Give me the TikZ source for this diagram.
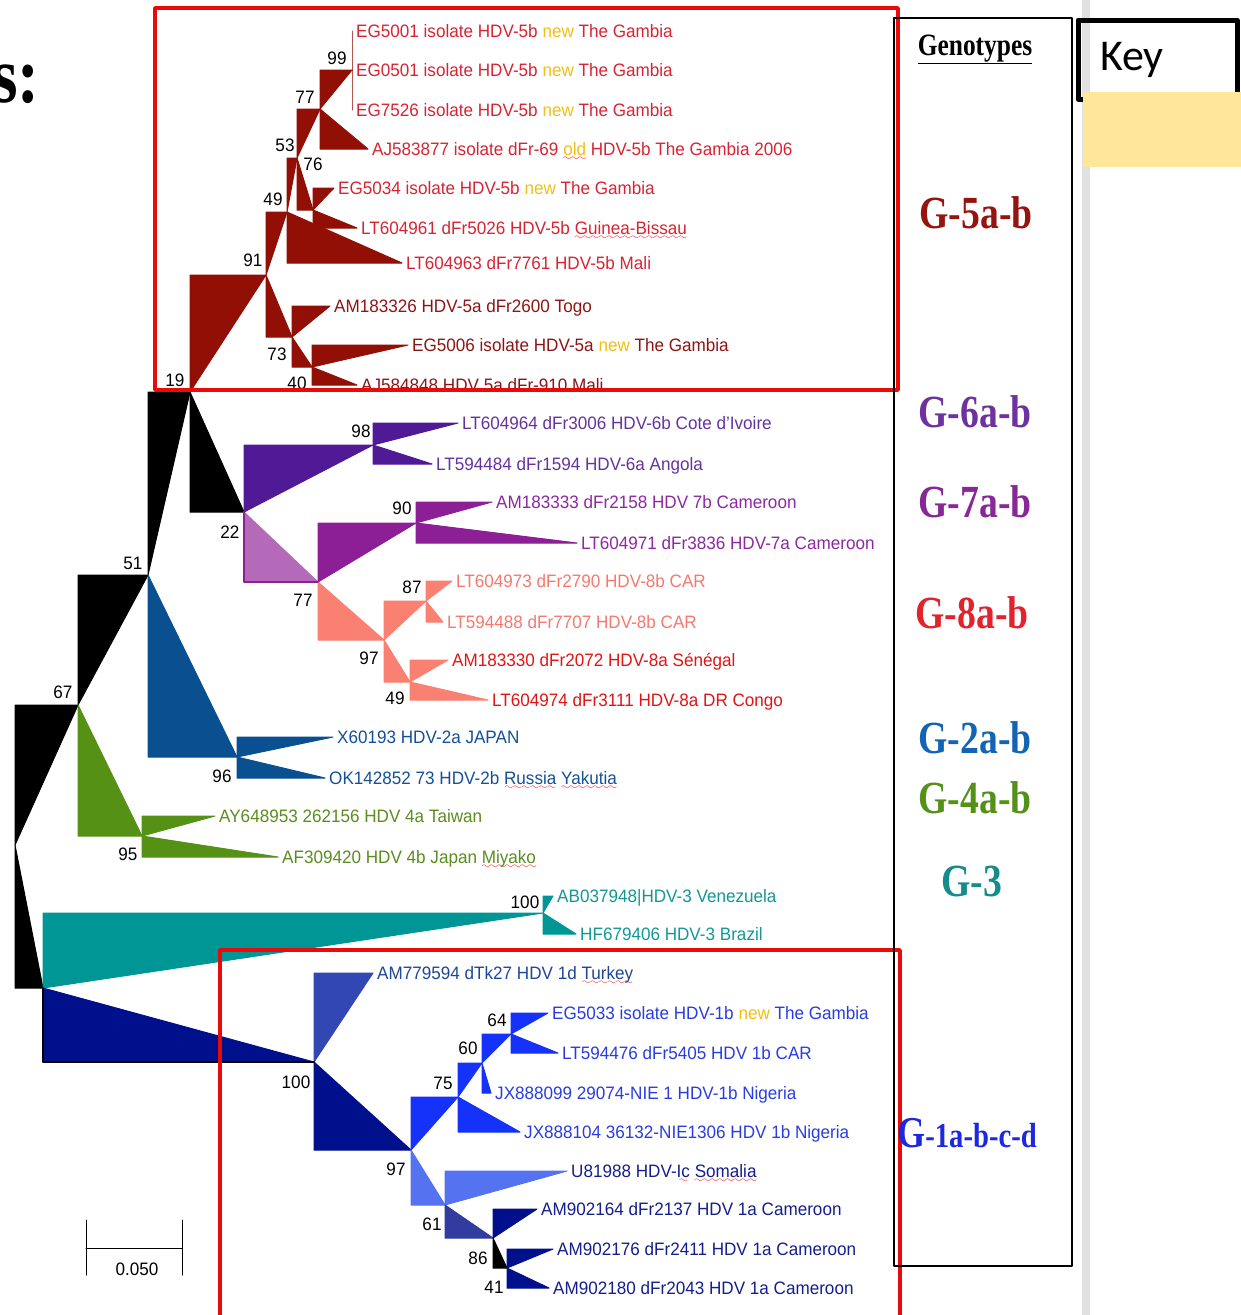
\documentclass[tikz,border=0pt]{standalone}
\usepackage{fontspec}
\usetikzlibrary{calc}
\newfontfamily\tipfont{Liberation Sans}[FakeStretch=0.95]
\newfontfamily\genofont{Liberation Serif}[FakeStretch=0.82]
\newfontfamily\keyfont{Carlito}
\font\sqwave=lasy6 at 9pt
% clade colours
\definecolor{gfive}{RGB}{145,15,5}
\definecolor{gsix}{RGB}{80,25,150}
\definecolor{gseven}{RGB}{140,30,150}
\definecolor{gsevenl}{RGB}{180,105,185}
\definecolor{geight}{RGB}{250,128,114}
\definecolor{gtwo}{RGB}{10,80,145}
\definecolor{gfour}{RGB}{85,145,20}
\definecolor{gthree}{RGB}{0,150,150}
\definecolor{gonen}{RGB}{0,15,140}
\definecolor{goneb}{RGB}{20,50,250}
\definecolor{gonel}{RGB}{85,115,240}
\definecolor{gonem}{RGB}{50,70,180}
\definecolor{gones}{RGB}{50,60,160}
% label colours
\definecolor{lfive}{RGB}{215,35,50}
\definecolor{lfivea}{RGB}{140,20,20}
\definecolor{lsix}{RGB}{100,50,160}
\definecolor{lseven}{RGB}{140,40,160}
\definecolor{leight}{RGB}{245,120,110}
\definecolor{leighta}{RGB}{225,20,20}
\definecolor{ltwo}{RGB}{20,80,150}
\definecolor{lfour}{RGB}{90,140,30}
\definecolor{lthree}{RGB}{20,150,150}
\definecolor{lonem}{RGB}{30,70,150}
\definecolor{loneb}{RGB}{40,60,225}
\definecolor{lonen}{RGB}{20,30,140}
\definecolor{newc}{RGB}{240,190,20}
\definecolor{boxred}{RGB}{235,10,10}
\definecolor{keyyellow}{RGB}{255,230,153}
\definecolor{sepgrey}{RGB}{225,225,225}
\definecolor{tfive}{RGB}{150,20,15}
\definecolor{tsix}{RGB}{110,50,160}
\definecolor{tseven}{RGB}{135,40,150}
\definecolor{teight}{RGB}{225,35,45}
\definecolor{ttwo}{RGB}{20,100,180}
\definecolor{tfour}{RGB}{85,145,25}
\definecolor{tthree}{RGB}{20,140,140}
\definecolor{tone}{RGB}{30,40,220}
\newcommand\nw{\textcolor{newc}{new}}
\newsavebox\sqbox
\newcommand\sq[1]{\sbox\sqbox{#1}%
  \rlap{\lower5pt\hbox to\wd\sqbox{\color{red}\xleaders\hbox{\sqwave\char58}\hfil}}%
  \usebox\sqbox}

\begin{document}
\begin{tikzpicture}[x=1pt,y=-1pt,
          line cap=round,line join=round,
          branch/.style={fill=#1,draw=#1,line width=1pt},
          tip/.style={anchor=base west,inner sep=0pt,xshift=4pt,yshift=-6.5pt,
                      font=\tipfont\fontsize{18}{20}\selectfont},
          boot/.style={inner sep=0pt,font=\tipfont\fontsize{18}{20}\selectfont},
          geno/.style={anchor=base,inner sep=0pt,font=\genofont\bfseries\fontsize{46}{50}\selectfont}]
        \useasboundingbox (0,0) rectangle (1241,1315);

        % internal nodes
        \coordinate (r) at (15,845);
        \coordinate (n67) at (78,705);
        \coordinate (n51) at (148,575);
        \coordinate (n95) at (142,836);
        \coordinate (n19) at (190,392);
        \coordinate (n96) at (237,757);
        \coordinate (n91) at (266,275);
        \coordinate (n22) at (244,512);
        \coordinate (n49) at (287,212);
        \coordinate (n73) at (292,337);
        \coordinate (n53) at (297,158);
        \coordinate (n77) at (320,109);
        \coordinate (n76) at (313,210);
        \coordinate (n99) at (352,70);
        \coordinate (n40) at (312,367);
        \coordinate (n98) at (373,445);
        \coordinate (n77b) at (318,582);
        \coordinate (n90) at (416,523);
        \coordinate (n97) at (384,640);
        \coordinate (n87) at (426,601);
        \coordinate (n49b) at (410,682);
        \coordinate (nx) at (43,988);
        \coordinate (n100c) at (543,913);
        \coordinate (n100) at (314,1062);
        \coordinate (n97c) at (411,1150);
        \coordinate (n75) at (458,1097);
        \coordinate (n60) at (482,1063);
        \coordinate (n64) at (511,1034);
        \coordinate (n61) at (445,1205);
        \coordinate (n86) at (493,1238);
        \coordinate (n41) at (507,1268);

        % tips
        \coordinate (t1) at (352,31);
        \coordinate (t2) at (352,70);
        \coordinate (t3) at (352,110);
        \coordinate (t4) at (368,149);
        \coordinate (t5) at (334,188);
        \coordinate (t6) at (357,228);
        \coordinate (t7) at (402,263);
        \coordinate (t8) at (330,306);
        \coordinate (t9) at (408,345);
        \coordinate (t10) at (357,385);
        \coordinate (t11) at (458,423);
        \coordinate (t12) at (432,464);
        \coordinate (t13) at (492,502);
        \coordinate (t14) at (577,543);
        \coordinate (t15) at (452,581);
        \coordinate (t16) at (443,622);
        \coordinate (t17) at (448,660);
        \coordinate (t18) at (488,700);
        \coordinate (t19) at (333,737);
        \coordinate (t20) at (325,778);
        \coordinate (t21) at (215,816);
        \coordinate (t22) at (278,857);
        \coordinate (t23) at (553,896);
        \coordinate (t24) at (576,934);
        \coordinate (t25) at (373,973);
        \coordinate (t26) at (548,1013);
        \coordinate (t27) at (558,1053);
        \coordinate (t28) at (491,1093);
        \coordinate (t29) at (520,1132);
        \coordinate (t30) at (567,1171);
        \coordinate (t31) at (537,1209);
        \coordinate (t32) at (553,1249);
        \coordinate (t33) at (549,1288);

        % branches: parent / child / colour
        \foreach \p/\c/\col in {r/n67/black,r/nx/black,n67/n51/black,n67/n95/gfour,
            n51/n19/black,n51/n96/gtwo,n19/n91/gfive,n19/n22/black,
            n91/n49/gfive,n91/n73/gfive,n49/n53/gfive,n49/t7/gfive,
            n53/n77/gfive,n53/n76/gfive,n77/n99/gfive,n77/t4/gfive,
            n99/t1/gfive,n99/t2/gfive,n99/t3/gfive,n76/t5/gfive,n76/t6/gfive,
            n73/t8/gfive,n73/n40/gfive,n40/t9/gfive,n40/t10/gfive,
            n22/n98/gsix,n98/t11/gsix,n98/t12/gsix,n22/n77b/gsevenl,
            n77b/n90/gseven,n90/t13/gseven,n90/t14/gseven,
            n77b/n97/geight,n97/n87/geight,n87/t15/geight,n87/t16/geight,
            n97/n49b/geight,n49b/t17/geight,n49b/t18/geight,
            n96/t19/gtwo,n96/t20/gtwo,n95/t21/gfour,n95/t22/gfour,
            nx/n100c/gthree,n100c/t23/gthree,n100c/t24/gthree,
            nx/n100/gonen,n100/t25/gonem,n100/n97c/gonen,
            n97c/n75/goneb,n75/n60/goneb,n60/n64/goneb,n64/t26/goneb,
            n64/t27/goneb,n60/t28/goneb,n75/t29/goneb,
            n97c/n61/gonel,n61/t30/gonel,n61/n86/gones,
            n86/t31/gonen,n86/n41/black,n41/t32/gonen,n41/t33/gonen}
          \path[branch=\col] (\p) -- (\p |- \c) -- (\c) -- cycle;
        \draw[gseven,line width=1.5pt] (n22) -- (n22 |- n77b) -- (n77b);
        \draw[black,line width=2pt] (nx) -- (nx |- n100) -- (n100);

        % tip labels
        \foreach \t/\col/\txt in {
            t1/lfive/{EG5001 isolate HDV-5b \nw{} The Gambia},
            t2/lfive/{EG0501 isolate HDV-5b \nw{} The Gambia},
            t3/lfive/{EG7526 isolate HDV-5b \nw{} The Gambia},
            t4/lfive/{AJ583877 isolate dFr-69 \textcolor{newc}{\sq{old}} HDV-5b The Gambia 2006},
            t5/lfive/{EG5034 isolate HDV-5b \nw{} The Gambia},
            t6/lfive/{LT604961 dFr5026 HDV-5b \sq{Guinea-Bissau}},
            t7/lfive/{LT604963 dFr7761 HDV-5b Mali},
            t8/lfivea/{AM183326 HDV-5a dFr2600 Togo},
            t9/lfivea/{EG5006 isolate HDV-5a \nw{} The Gambia},
            t10/lfivea/{AJ584848 HDV 5a dFr-910 Mali},
            t11/lsix/{LT604964 dFr3006 HDV-6b Cote d’Ivoire},
            t12/lsix/{LT594484 dFr1594 HDV-6a Angola},
            t13/lseven/{AM183333 dFr2158 HDV 7b Cameroon},
            t14/lseven/{LT604971 dFr3836 HDV-7a Cameroon},
            t15/leight/{LT604973 dFr2790 HDV-8b CAR},
            t16/leight/{LT594488 dFr7707 HDV-8b CAR},
            t17/leighta/{AM183330 dFr2072 HDV-8a Sénégal},
            t18/leighta/{LT604974 dFr3111 HDV-8a DR Congo},
            t19/ltwo/{X60193 HDV-2a JAPAN},
            t20/ltwo/{OK142852 73 HDV-2b \sq{Russia} \sq{Yakutia}},
            t21/lfour/{AY648953 262156 HDV 4a Taiwan},
            t22/lfour/{AF309420 HDV 4b Japan \sq{Miyako}},
            t23/lthree/{AB037948|HDV-3 Venezuela},
            t24/lthree/{HF679406 HDV-3 Brazil},
            t25/lonem/{AM779594 dTk27 HDV 1d \sq{Turkey}},
            t26/loneb/{EG5033 isolate HDV-1b \nw{} The Gambia},
            t27/loneb/{LT594476 dFr5405 HDV 1b CAR},
            t28/loneb/{JX888099 29074-NIE 1 HDV-1b Nigeria},
            t29/loneb/{JX888104 36132-NIE1306 HDV 1b Nigeria},
            t30/lonen/{U81988 HDV-\sq{Ic} \sq{Somalia}},
            t31/lonen/{AM902164 dFr2137 HDV 1a Cameroon},
            t32/lonen/{AM902176 dFr2411 HDV 1a Cameroon},
            t33/lonen/{AM902180 dFr2043 HDV 1a Cameroon}}
          \node[tip,text=\col] (l\t) at (\t) {\txt};

        % bootstrap values
        \foreach \v/\x/\y [count=\i] in {99/337/58,77/305/97,53/285/145,76/313/164,
            49/273/199,91/253/260,73/277/354,40/297/383,19/175/380,
            98/361/431,90/402/508,22/230/532,77/303/600,87/412/587,
            97/369/658,49/395/698,51/133/563,67/63/692,96/222/776,95/128/854,
            100/525/902,100/296/1082,97/396/1169,61/432/1224,86/478/1258,
            41/494/1287,75/443/1083,60/468/1048,64/497/1020}
          \node[boot] (bs\i) at (\x,\y) {\v};

        % scale bar
        \coordinate (sba) at (86,1248);
        \coordinate (sbb) at (182,1248);
        \draw[line width=1pt] (sba) -- (sbb);
        \draw[line width=1pt] ($(sba)+(0,-28)$) -- ($(sba)+(0,27)$);
        \draw[line width=1pt] ($(sbb)+(0,-28)$) -- ($(sbb)+(0,27)$);
        \node[boot] (sbl) at (137,1269) {0.050};

        % boxes
        \draw[boxred,line width=3.5pt] (155,8) rectangle (898,390);
        \draw[boxred,line width=3.5pt] (220,1330) -- (220,950) -- (900,950) -- (900,1330);
        \draw[black,line width=2.5pt] (894,18) rectangle (1072,1266);
        \fill[sepgrey] (1082,0) rectangle (1090,1315);
        \draw[black,line width=5pt] (1078,20) rectangle (1237,99);
        \fill[keyyellow] (1083,92) rectangle (1241,167);
        \node[anchor=base west,inner sep=0pt,font=\keyfont\fontsize{44}{48}\selectfont]
          (key) at (1100,70) {Key};
        \node[anchor=base east,inner sep=0pt,font=\genofont\bfseries\fontsize{80}{84}\selectfont]
          (head) at (40,102) {s:};

        % genotype column
        \node[geno,font=\genofont\bfseries\fontsize{31}{33}\selectfont] (gh) at (975,55) {\underline{Genotypes}};
        \node[geno,text=tfive] (g5) at (976,228) {G-5a-b};
        \node[geno,text=tsix] (g6) at (975,427) {G-6a-b};
        \node[geno,text=tseven] (g7) at (975,517) {G-7a-b};
        \node[geno,text=teight] (g8) at (972,628) {G-8a-b};
        \node[geno,text=ttwo] (g2) at (975,753) {G-2a-b};
        \node[geno,text=tfour] (g4) at (975,813) {G-4a-b};
        \node[geno,text=tthree] (g3) at (972,896) {G-3};
        \node[geno,anchor=base west,text=tone] (g1) at (897,1147)
          {{\fontsize{44}{46}\selectfont G}{\fontsize{35}{37}\selectfont -1a-b-c-d}};
      \end{tikzpicture}
\end{document}
